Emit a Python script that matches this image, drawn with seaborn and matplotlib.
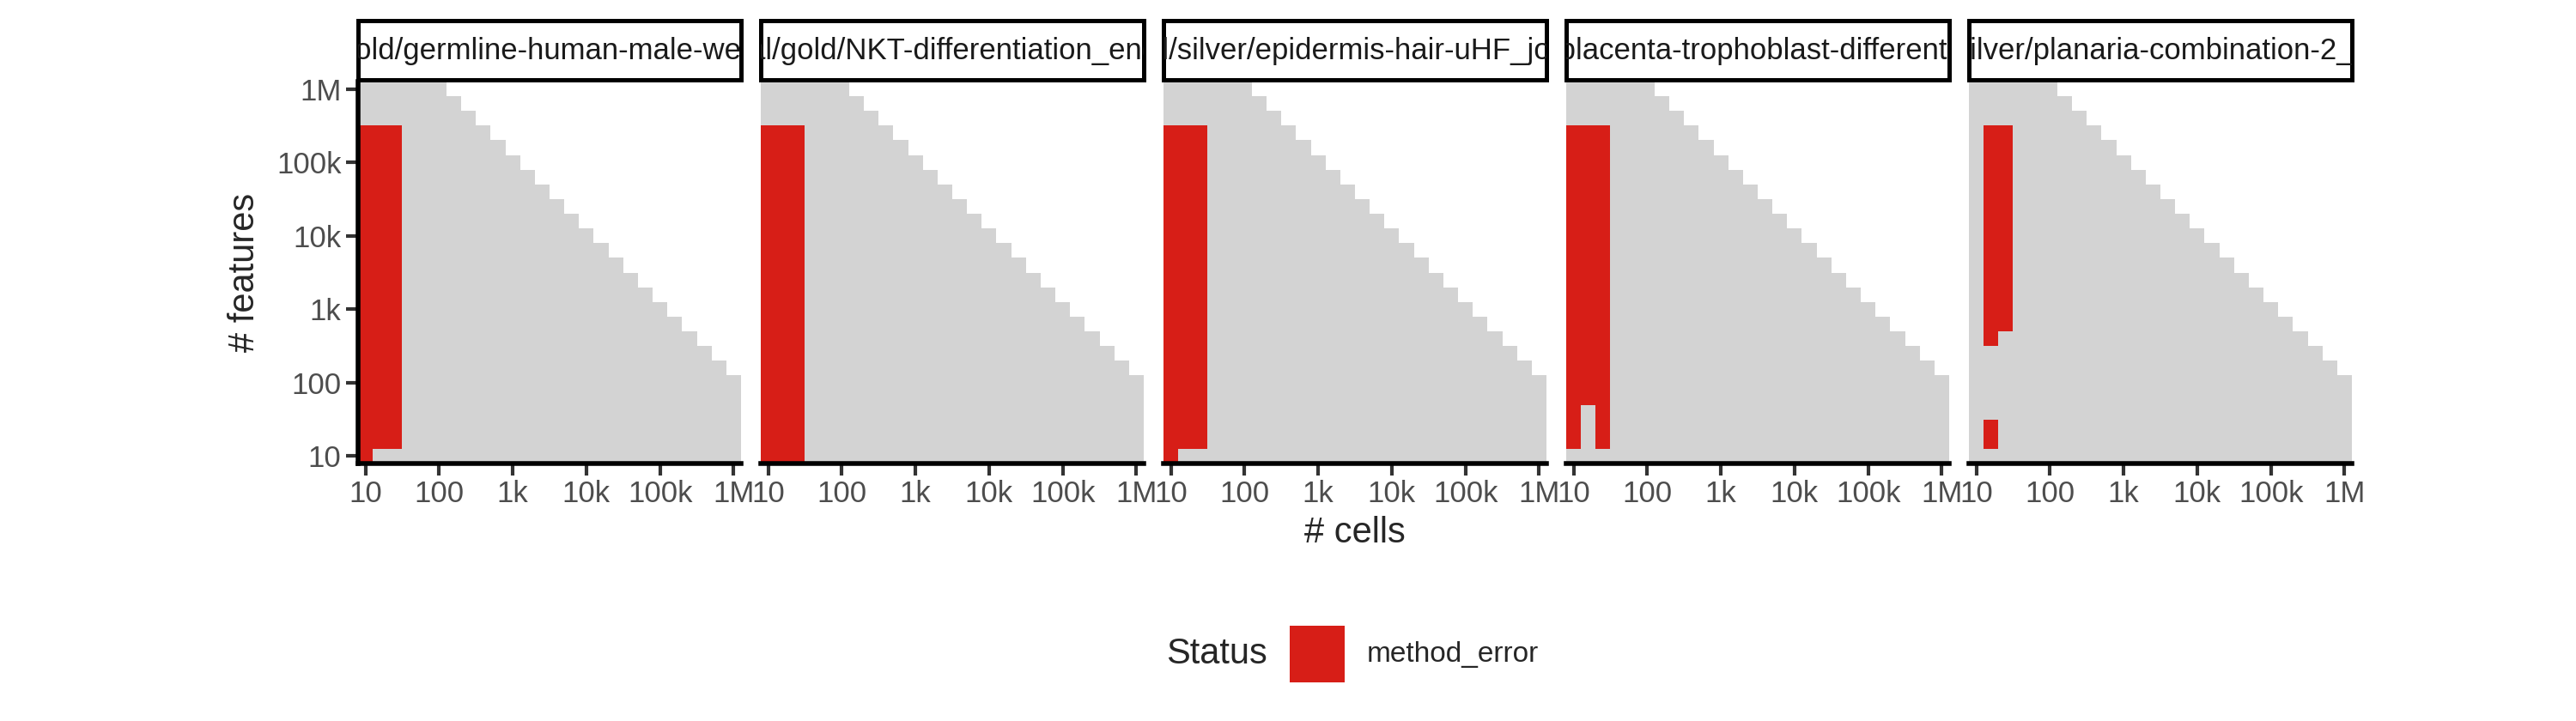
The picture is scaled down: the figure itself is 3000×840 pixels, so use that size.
import numpy as np
import pandas as pd
import matplotlib
matplotlib.use("Agg")
import matplotlib.pyplot as plt
from matplotlib.colors import ListedColormap
from matplotlib.patches import Rectangle
import seaborn as sns

sns.set_theme(style="white")
plt.rcParams['font.family'] = ['Liberation Sans', 'DejaVu Sans']

datasets = [
    "real/gold/germline-human-male-weeks_li",
    "real/gold/NKT-differentiation_engel",
    "real/silver/epidermis-hair-uHF_joost",
    "real/silver/placenta-trophoblast-differentiation_mca",
    "real/silver/planaria-combination-2_plass",
]
# log10 grid of #cells and #features
grid_exponents = [1.0, 1.2, 1.4, 1.6, 1.8, 2.0, 2.2, 2.4, 2.6, 2.8, 3.0, 3.2, 3.4,
                  3.6, 3.8, 4.0, 4.2, 4.4, 4.6, 4.8, 5.0, 5.2, 5.4, 5.6, 5.8, 6.0]
# highest feature row index evaluated for each cell column
max_feature_row = [25, 25, 25, 25, 25, 25, 24, 23, 22, 21, 20, 19, 18,
                   17, 16, 15, 14, 13, 12, 11, 10, 9, 8, 7, 6, 5]
# method_error runs: column -> list of (row_from, row_to)
errors = [
    {0: [(0, 22)], 1: [(1, 22)], 2: [(1, 22)]},
    {0: [(0, 22)], 1: [(0, 22)], 2: [(0, 22)]},
    {0: [(0, 22)], 1: [(1, 22)], 2: [(1, 22)]},
    {0: [(1, 22)], 1: [(4, 22)], 2: [(1, 22)]},
    {1: [(1, 2), (8, 22)], 2: [(9, 22)]},
]
tick_values = [10, 100, 1000, 10000, 100000, 1000000]
tick_labels = ["10", "100", "1k", "10k", "100k", "1M"]

n = len(grid_exponents)
edges = 10 ** np.concatenate([[grid_exponents[0] - 0.1], np.array(grid_exponents) + 0.1])

W, H = 3000, 840
fig = plt.figure(figsize=(15, 4.2), dpi=200)
cmap = ListedColormap(["#D3D3D3", "#D71E17"])
lefts = [417, 886, 1355, 1824, 2293]
pw = 446
ybot, ytop = 540, 95

for i, name in enumerate(datasets):
    ax = fig.add_axes([lefts[i] / W, 1 - ybot / H, pw / W, (ybot - ytop) / H])
    Z = np.full((n, n), np.nan)
    for c in range(n):
        Z[:max_feature_row[c] + 1, c] = 0
    for c, runs in errors[i].items():
        for a, b in runs:
            Z[a:b + 1, c] = 1
    ax.pcolormesh(edges, edges, np.ma.masked_invalid(Z), cmap=cmap, vmin=0, vmax=1)
    ax.set_xscale("log"); ax.set_yscale("log")
    ax.set_xlim(edges[0], edges[-1]); ax.set_ylim(edges[0], edges[-1])
    ax.set_xticks(tick_values, tick_labels)
    ax.minorticks_off()
    ax.tick_params(axis="both", length=5, width=1.5, color="#333333",
                   labelsize=12.5, labelcolor="#4D4D4D", pad=2, bottom=True, left=True)
    for s in ["top", "right"]:
        ax.spines[s].set_visible(False)
    ax.spines["bottom"].set_linewidth(2); ax.spines["bottom"].set_color("black")
    if i == 0:
        ax.set_yticks(tick_values, tick_labels)
        ax.spines["left"].set_linewidth(2); ax.spines["left"].set_color("black")
        ax.set_ylabel("# features", fontsize=15, labelpad=6)
    else:
        ax.set_yticks([])
        ax.spines["left"].set_visible(False)
    if i == 2:
        ax.set_xlabel("# cells", fontsize=15, labelpad=3)
    # strip
    sax = fig.add_axes([lefts[i] / W, 1 - 93 / H, pw / W, 69 / H])
    sax.set_xticks([]); sax.set_yticks([])
    for s in sax.spines.values():
        s.set_linewidth(1.8); s.set_color("black")
    sax.set_facecolor("white")
    sax.text(0.5, 0.48, name, ha="center", va="center", fontsize=12.5,
             color="#1A1A1A", clip_on=True, transform=sax.transAxes)

# legend
fig.text(1476 / W, 1 - 762 / H, "Status", ha="right", va="center", fontsize=15)
lax = fig.add_axes([1502 / W, 1 - 795 / H, 64 / W, 66 / H])
lax.add_patch(Rectangle((0, 0), 1, 1, color="#D71E17"))
lax.set_xlim(0, 1); lax.set_ylim(0, 1); lax.axis("off")
fig.text(1592 / W, 1 - 762 / H, "method_error", ha="left", va="center", fontsize=12)

fig.savefig("out.png", dpi=200, facecolor="white")
